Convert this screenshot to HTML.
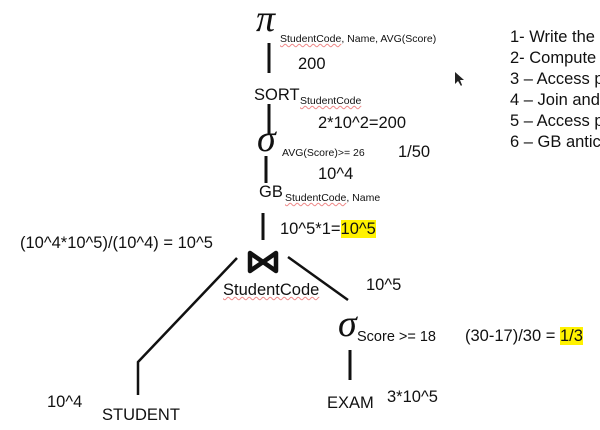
<!DOCTYPE html>
<html><head><meta charset="utf-8"><style>
body{margin:0;width:600px;height:430px;background:#fff;overflow:hidden;position:relative;font-family:"Liberation Sans",sans-serif;color:#111}
.t{position:absolute;font-size:16.5px;white-space:nowrap;line-height:18px}
.s{position:absolute;font-size:10.5px;white-space:nowrap;line-height:12px}
.u{text-decoration:underline wavy #e88;text-decoration-thickness:1px}
.g{position:absolute;font-family:"Liberation Serif",serif;font-style:italic;font-size:38px;line-height:38px}
.hl{background:#fff200}
</style></head><body>
<svg width="600" height="430" style="position:absolute;left:0;top:0">
<g stroke="#111" stroke-width="3" fill="none">
<line x1="269" y1="43" x2="269" y2="73"/>
<line x1="269" y1="104" x2="269" y2="135"/>
<line x1="266" y1="156" x2="266" y2="183"/>
<line x1="263" y1="213" x2="263" y2="240"/>
<polyline points="237,258 138,362 138,395" stroke-width="2.5"/>
<line x1="288" y1="257" x2="348" y2="300" stroke-width="2.5"/>
<line x1="350" y1="350" x2="350" y2="380"/>
<path d="M250,253 L250,271 L276,253 L276,271 Z" stroke-width="4.5" stroke-linejoin="round"/>
</g>
<path d="M455,72 L455,84 L458,81 L461,86 L462,85 L460,80 L464,80 Z" fill="#222"/>
</svg>
<div class="g" style="left:256px;top:0px">π</div>
<div class="s" style="left:280px;top:33px"><span class="u">StudentCode</span>, Name, AVG(Score)</div>
<div class="t" style="left:298px;top:55px">200</div>
<div class="t" style="left:254px;top:86px">SORT</div>
<div class="s" style="left:300px;top:95px"><span class="u">StudentCode</span></div>
<div class="t" style="left:318px;top:114px">2*10^2=200</div>
<div class="g" style="left:257px;top:120px">σ</div>
<div class="s" style="left:282px;top:147px">AVG(Score)&gt;= 26</div>
<div class="t" style="left:398px;top:143px">1/50</div>
<div class="t" style="left:318px;top:165px">10^4</div>
<div class="t" style="left:259px;top:183px">GB</div>
<div class="s" style="left:285px;top:192px"><span class="u">StudentCode</span>, Name</div>
<div class="t" style="left:280px;top:220px">10^5*1=<span class="hl">10^5</span></div>
<div class="t" style="left:20px;top:234px">(10^4*10^5)/(10^4) = 10^5</div>
<div class="t" style="left:223px;top:281px"><span class="u">StudentCode</span></div>
<div class="t" style="left:366px;top:276px">10^5</div>
<div class="g" style="left:338px;top:305px">σ</div>
<div class="t" style="left:357px;top:328px;font-size:14.5px">Score &gt;= 18</div>
<div class="t" style="left:465px;top:327px">(30-17)/30 = <span class="hl">1/3</span></div>
<div class="t" style="left:327px;top:394px">EXAM</div>
<div class="t" style="left:387px;top:388px">3*10^5</div>
<div class="t" style="left:47px;top:393px">10^4</div>
<div class="t" style="left:102px;top:406px">STUDENT</div>
<div class="t" style="left:510px;top:28px">1- Write the</div>
<div class="t" style="left:510px;top:49px">2- Compute</div>
<div class="t" style="left:510px;top:70px">3 – Access p</div>
<div class="t" style="left:510px;top:91px">4 – Join and</div>
<div class="t" style="left:510px;top:112px">5 – Access p</div>
<div class="t" style="left:510px;top:133px">6 – GB antic</div>
</body></html>
